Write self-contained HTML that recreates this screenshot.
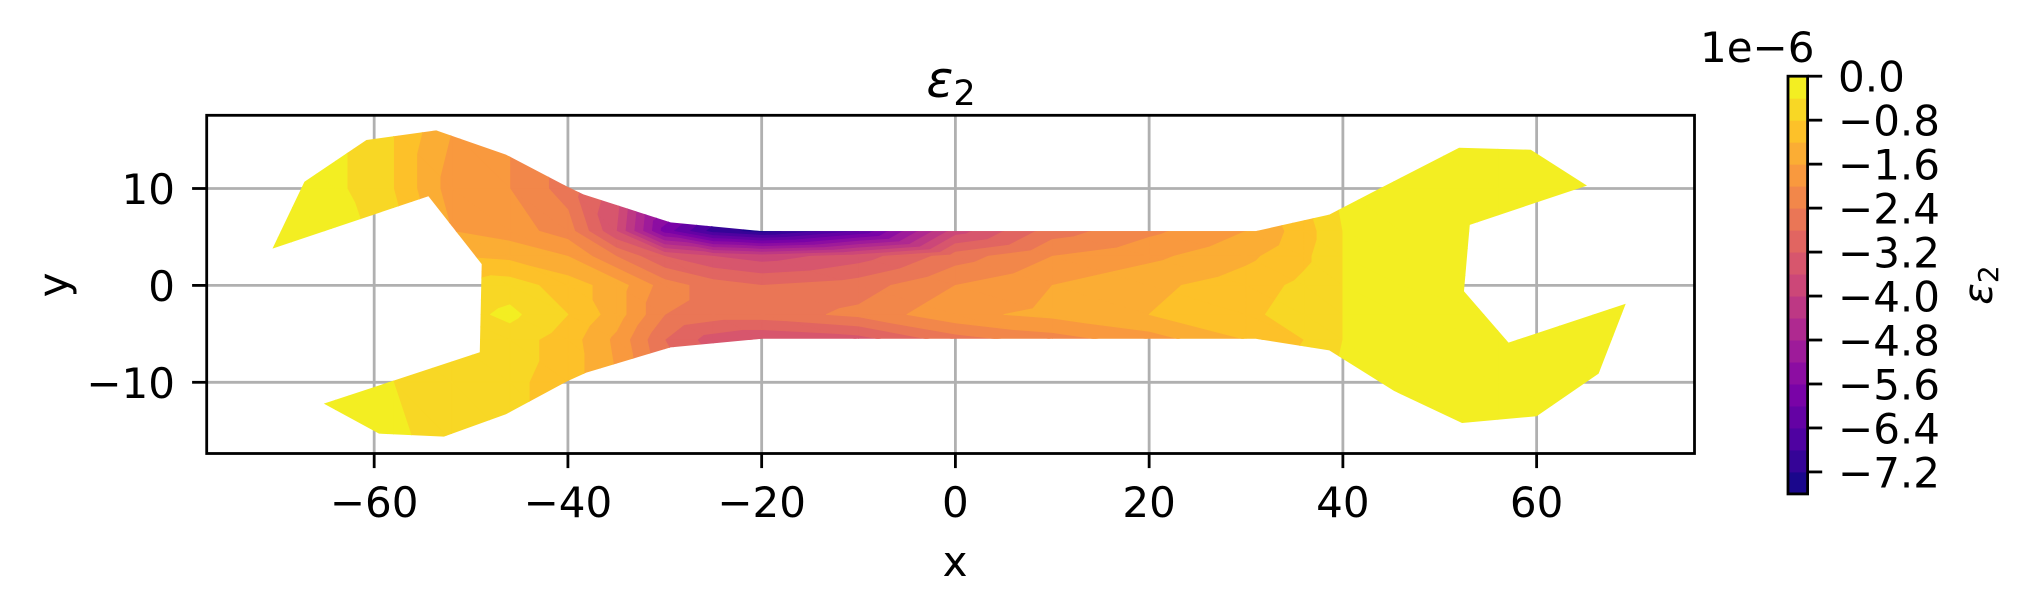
<!DOCTYPE html>
<html><head><meta charset="utf-8"><style>
html,body{margin:0;padding:0;background:#fff;}
svg{display:block;font-family:"DejaVu Sans","Liberation Sans",sans-serif;}
</style></head><body>
<svg id="chart" width="2026" height="613" viewBox="0 0 2026 613" xmlns="http://www.w3.org/2000/svg">
<defs><clipPath id="wclip"><polygon id="wrench-outline" points=""/></clipPath></defs>
<rect width="2026" height="613" fill="#fff"/>
<g id="grid"></g>
<g id="field" clip-path="url(#wclip)"></g>
<g id="axes"></g>
<g id="cbar"></g>
<text x="951" y="97" font-size="50" text-anchor="middle" font-style="italic">ε<tspan font-size="35" font-style="normal" dy="8">2</tspan></text>
<text x="955" y="576" font-size="42" text-anchor="middle">x</text>
<text x="0" y="0" font-size="42" text-anchor="middle" transform="translate(68,285) rotate(-90)">y</text>
<text x="1700" y="62" font-size="42">1e−6</text>
<text x="0" y="0" font-size="40" text-anchor="middle" font-style="italic" transform="translate(1992,285) rotate(-90)">ε<tspan font-size="28" font-style="normal" dy="6">2</tspan></text>
</svg>
<script>
const xTicks=[-60,-40,-20,0,20,40,60];
const yTicks=[10,0,-10];
const levels=[-7.6,-7.2,-6.8,-6.4,-6.0,-5.6,-5.2,-4.8,-4.4,-4.0,-3.6,-3.2,-2.8,-2.4,-2.0,-1.6,-1.2,-0.8,-0.4,0.0];
const cbarTicks=[0.0,-0.8,-1.6,-2.4,-3.2,-4.0,-4.8,-5.6,-6.4,-7.2];
const cbarTickLabels=["0.0","−0.8","−1.6","−2.4","−3.2","−4.0","−4.8","−5.6","−6.4","−7.2"];
const gridX=[-72,-64,-58,-52,-46,-40,-35,-30,-25,-20,-10,0,10,20,30,36,40,46,56,70];
const gridY=[16,10,5.6,3,0,-3,-5.6,-10,-16];
const row0=[-0.2,-0.3,-0.8,-1.6,-2.0,-2.2,-2.5,-3.0,-4.0,-5.0,-5.0,-3.0,-2.0,-1.8,-1.2,-0.6,-0.2,-0.2,-0.2,-0.2];
const row1=[-0.2,-0.3,-0.8,-1.8,-2.0,-2.6,-3.4,-4.5,-5.5,-6.0,-5.8,-3.6,-2.6,-2.0,-1.4,-0.8,-0.3,-0.2,-0.2,-0.2];
const row2=[-0.2,-0.2,-0.6,-1.6,-1.8,-2.2,-3.6,-5.8,-7.0,-7.4,-6.4,-3.8,-2.6,-2.1,-1.6,-1.0,-0.4,-0.2,-0.2,-0.2];
const row3=[-0.2,-0.2,-0.5,-1.2,-1.3,-1.6,-2.4,-3.2,-3.6,-3.8,-3.4,-2.6,-2.0,-1.7,-1.3,-0.9,-0.4,-0.2,-0.2,-0.2];
const row4=[-0.2,-0.2,-0.5,-0.8,-0.6,-1.0,-1.4,-2.2,-2.6,-2.8,-2.6,-2.0,-1.6,-1.3,-1.0,-0.7,-0.4,-0.2,-0.2,-0.2];
const row5=[-0.2,-0.2,-0.5,-0.6,-0.3,-0.8,-1.4,-2.4,-2.6,-2.6,-2.3,-1.7,-1.5,-1.2,-0.9,-0.6,-0.4,-0.2,-0.2,-0.2];
const row6=[-0.2,-0.2,-0.5,-0.6,-0.6,-1.0,-1.7,-2.8,-3.4,-3.6,-3.4,-2.6,-2.2,-1.8,-1.2,-0.8,-0.4,-0.2,-0.2,-0.2];
const row7=[-0.2,-0.2,-0.4,-0.6,-0.7,-1.0,-1.6,-2.6,-3.0,-3.0,-3.0,-2.4,-2.0,-1.6,-1.0,-0.6,-0.3,-0.2,-0.2,-0.2];
const row8=[-0.2,-0.2,-0.3,-0.6,-0.8,-1.0,-1.4,-2.0,-2.4,-2.4,-2.4,-2.0,-1.6,-1.2,-0.8,-0.5,-0.3,-0.2,-0.2,-0.2];
const outlineX=[-70.5,-67.2,-60.8,-53.6,-46.4,-40.1,-38.4,-29.4,-20,31,38.6,44,52,59.4,65.2,53.1,52.5,57.1,69.2,66.4,60,52.3,45.3,38.6,31,-20,-29.4,-38.1,-40.1,-46.4,-52.8,-59.5,-65.2,-49.1,-48.9,-54.4];
const outlineY=[3.8,10.7,15,16,13.5,10.2,9.4,6.5,5.6,5.6,7.3,10.1,14.2,14,10.3,6.25,-0.6,-5.9,-1.9,-9.1,-13.5,-14.2,-10.9,-6.7,-5.5,-5.5,-6.4,-9.0,-9.9,-13.3,-15.6,-15.3,-12.2,-6.9,2.2,9.2];

const NS="http://www.w3.org/2000/svg";
const X0=955.4,KX=9.687,Y0=285.4,KY=9.69;
const L=206.7,R=1694.5,T=115.3,B=453.5;
function sx(x){return X0+x*KX;}
function sy(y){return Y0-y*KY;}
const CB={x:1788,w:19.6,top:76.2,per:43.97/0.8};
function cy(v){return CB.top-v*CB.per;}
const stops=["#0d0887","#4c02a1","#7e03a8","#a92395","#cc4778","#e56b5d","#f89441","#fdc328","#f0f921"];
function hex(h){return[1,3,5].map(i=>parseInt(h.substr(i,2),16));}
function plasma(t){t=Math.max(0,Math.min(1,t));const p=t*(stops.length-1);const i=Math.min(stops.length-2,Math.floor(p));const f=p-i;const a=hex(stops[i]),b=hex(stops[i+1]);return "rgb("+a.map((c,k)=>Math.round(c+(b[k]-c)*f)).join(",")+")";}
function mk(tag,attrs,parent){const e=document.createElementNS(NS,tag);for(const k in attrs)e.setAttribute(k,attrs[k]);parent.appendChild(e);return e;}

document.getElementById('wrench-outline').setAttribute('points',outlineX.map((x,i)=>sx(x)+","+sy(outlineY[i])).join(" "));

const grid=document.getElementById('grid');
xTicks.forEach(t=>{const l=mk('line',{x1:sx(t),x2:sx(t),y1:T,y2:B,stroke:'#b0b0b0','stroke-width':2.8},grid);

});
yTicks.forEach(t=>{const l=mk('line',{x1:L,x2:R,y1:sy(t),y2:sy(t),stroke:'#b0b0b0','stroke-width':2.8},grid);

});

const rows=[row0,row1,row2,row3,row4,row5,row6,row7,row8];
const field=document.getElementById('field');
function clip(poly,lev,keepAbove){const out=[];for(let i=0;i<poly.length;i++){const a=poly[i],b=poly[(i+1)%poly.length];const ina=keepAbove?a[2]>=lev:a[2]<=lev;const inb=keepAbove?b[2]>=lev:b[2]<=lev;if(ina)out.push(a);if(ina!==inb){const f=(lev-a[2])/(b[2]-a[2]);out.push([a[0]+(b[0]-a[0])*f,a[1]+(b[1]-a[1])*f,lev]);}}return out;}
const nb=levels.length-1;
const bandPaths=new Array(nb).fill("");
for(let j=0;j<gridY.length-1;j++){for(let i=0;i<gridX.length-1;i++){
 const p00=[gridX[i],gridY[j],rows[j][i]],p10=[gridX[i+1],gridY[j],rows[j][i+1]],p01=[gridX[i],gridY[j+1],rows[j+1][i]],p11=[gridX[i+1],gridY[j+1],rows[j+1][i+1]];
 [[p00,p10,p11],[p00,p11,p01]].forEach(tri=>{
  for(let k=0;k<nb;k++){let p=clip(tri,levels[k],true);if(p.length<3)continue;p=clip(p,levels[k+1],false);if(p.length<3)continue;
   bandPaths[k]+="M"+p.map(q=>sx(q[0]).toFixed(2)+","+sy(q[1]).toFixed(2)).join("L")+"Z";}
 });
}}
bandPaths.forEach((d,k)=>{if(!d)return;const c=plasma((k+0.5)/nb);
 const e=mk('path',{d:d,fill:c,stroke:c,'stroke-width':0.8,'stroke-linejoin':'round'},field);
 
 });

const axes=document.getElementById('axes');
const fr=mk('rect',{x:L,y:T,width:R-L,height:B-T,fill:'none',stroke:'#000','stroke-width':2.8},axes);


xTicks.forEach(t=>{const tk=mk('line',{x1:sx(t),x2:sx(t),y1:B,y2:B+14.6,stroke:'#000','stroke-width':2.8},axes);


const tx=mk('text',{x:sx(t),y:517,'font-size':42,'text-anchor':'middle'},axes);tx.textContent=t<0?"−"+(-t):""+t;

});
yTicks.forEach(t=>{const tk=mk('line',{x1:L-14.6,x2:L,y1:sy(t),y2:sy(t),stroke:'#000','stroke-width':2.8},axes);


const tx=mk('text',{x:175,y:sy(t)+15.5,'font-size':42,'text-anchor':'end'},axes);tx.textContent=t<0?"−"+(-t):""+t;

});

const cb=document.getElementById('cbar');
for(let k=0;k<nb;k++){const y1=cy(levels[k+1]),y2=cy(levels[k]);const c=plasma((k+0.5)/nb);
 const r=mk('rect',{x:CB.x,y:y1,width:CB.w,height:y2-y1+0.5,fill:c},cb);
 
 }
const cbf=mk('rect',{x:CB.x,y:cy(levels[nb]),width:CB.w,height:cy(levels[0])-cy(levels[nb]),fill:'none',stroke:'#000','stroke-width':2.8},cb);


cbarTicks.forEach((t,i)=>{const tk=mk('line',{x1:CB.x+CB.w,x2:CB.x+CB.w+14.6,y1:cy(t),y2:cy(t),stroke:'#000','stroke-width':2.8},cb);


const tx=mk('text',{x:1838,y:cy(t)+15.5,'font-size':42},cb);tx.textContent=cbarTickLabels[i];

});
</script>
</body></html>
